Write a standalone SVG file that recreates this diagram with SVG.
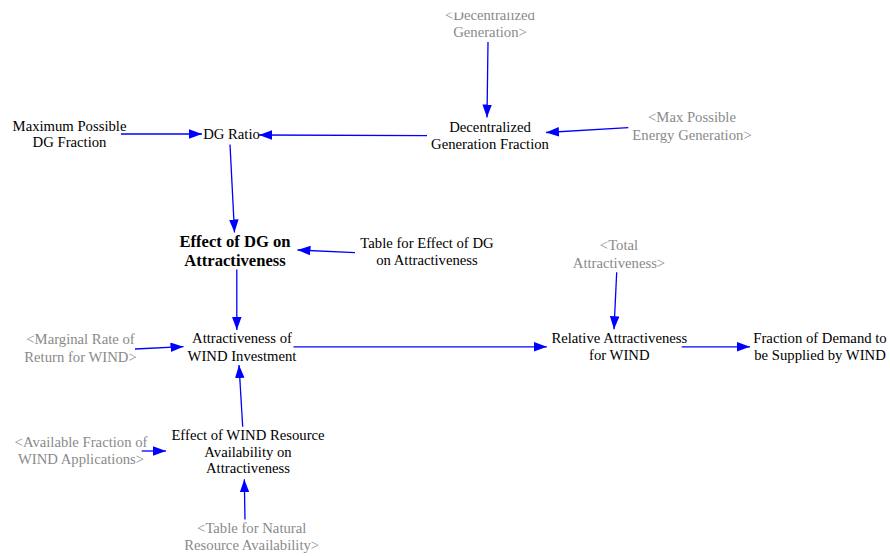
<svg xmlns="http://www.w3.org/2000/svg" width="890" height="556" viewBox="0 0 890 556" font-family="'Liberation Serif', 'Times New Roman', serif">
<style>
text{font-family:"Liberation Serif","Times New Roman",serif;font-size:14.7px;text-anchor:middle;fill:#000}
.g{fill:#8a8a8a}
.b{font-weight:bold;font-size:16.6px}
.c{stroke:#0000ff;stroke-width:1.3;fill:none;marker-end:url(#ah)}
</style>
<defs>
<marker id="ah" markerUnits="userSpaceOnUse" markerWidth="14" markerHeight="10" refX="13" refY="4.75" orient="auto">
<path d="M0,0 L13,4.75 L0,9.5 z" fill="#0000ff"/>
</marker>
<clipPath id="topclip"><rect x="0" y="12.5" width="890" height="600"/></clipPath>
</defs>
<rect width="890" height="556" fill="#fff"/>
<g id="connectors">
<line class="c" x1="121" y1="134" x2="202" y2="134"/>
<line class="c" x1="427" y1="135.7" x2="259" y2="135"/>
<line class="c" x1="488" y1="42" x2="487" y2="117.5"/>
<line class="c" x1="628.3" y1="127.7" x2="546" y2="132.5"/>
<line class="c" x1="230" y1="144.5" x2="234.5" y2="232.5"/>
<line class="c" x1="355" y1="252.7" x2="297.5" y2="250"/>
<line class="c" x1="236.8" y1="269.5" x2="236.8" y2="330"/>
<line class="c" x1="135" y1="349" x2="183.5" y2="346.7"/>
<line class="c" x1="242.7" y1="426.7" x2="239" y2="365"/>
<line class="c" x1="141.7" y1="451" x2="166" y2="451"/>
<line class="c" x1="245" y1="519.5" x2="244.3" y2="479.3"/>
<line class="c" x1="293.5" y1="346.8" x2="546.8" y2="346.8"/>
<line class="c" x1="616.7" y1="272.3" x2="614" y2="329.3"/>
<line class="c" x1="681.7" y1="346.8" x2="750" y2="346.8"/>
</g>
<g id="n-decentralized-generation" clip-path="url(#topclip)">
<text class="g" x="490" y="20">&lt;Decentralized</text>
<text class="g" x="490" y="36.8">Generation&gt;</text>
</g>
<g id="n-dg-fraction">
<text x="490" y="131.5">Decentralized</text>
<text x="490" y="149">Generation Fraction</text>
</g>
<g id="n-max-energy">
<text class="g" x="692" y="122">&lt;Max Possible</text>
<text class="g" x="692" y="139.5">Energy Generation&gt;</text>
</g>
<g id="n-max-dg">
<text x="69.5" y="130.7">Maximum Possible</text>
<text x="69.5" y="146.7">DG Fraction</text>
</g>
<g id="n-dg-ratio">
<text x="231.5" y="138.5">DG Ratio</text>
</g>
<g id="n-effect-dg">
<text class="b" x="235" y="246.7">Effect of DG on</text>
<text class="b" x="235" y="266">Attractiveness</text>
</g>
<g id="n-table-effect-dg">
<text x="427" y="247.5">Table for Effect of DG</text>
<text x="427" y="265">on Attractiveness</text>
</g>
<g id="n-total-attr">
<text class="g" x="619" y="250">&lt;Total</text>
<text class="g" x="619" y="267.7">Attractiveness&gt;</text>
</g>
<g id="n-attr-wind">
<text x="242" y="343.3">Attractiveness of</text>
<text x="242" y="361">WIND Investment</text>
</g>
<g id="n-marginal">
<text class="g" x="80.5" y="344.3">&lt;Marginal Rate of</text>
<text class="g" x="80.5" y="362">Return for WIND&gt;</text>
</g>
<g id="n-effect-wind">
<text x="248" y="439.5">Effect of WIND Resource</text>
<text x="248" y="456.7">Availability on</text>
<text x="248" y="473">Attractiveness</text>
</g>
<g id="n-available">
<text class="g" x="81" y="446.7">&lt;Available Fraction of</text>
<text class="g" x="81" y="464">WIND Applications&gt;</text>
</g>
<g id="n-table-natural">
<text class="g" x="251.7" y="532.7">&lt;Table for Natural</text>
<text class="g" x="251.7" y="550">Resource Availability&gt;</text>
</g>
<g id="n-relative">
<text x="619.3" y="342.7">Relative Attractiveness</text>
<text x="619.3" y="360">for WIND</text>
</g>
<g id="n-fraction-demand">
<text x="820" y="342.7">Fraction of Demand to</text>
<text x="820" y="360">be Supplied by WIND</text>
</g>
</svg>
